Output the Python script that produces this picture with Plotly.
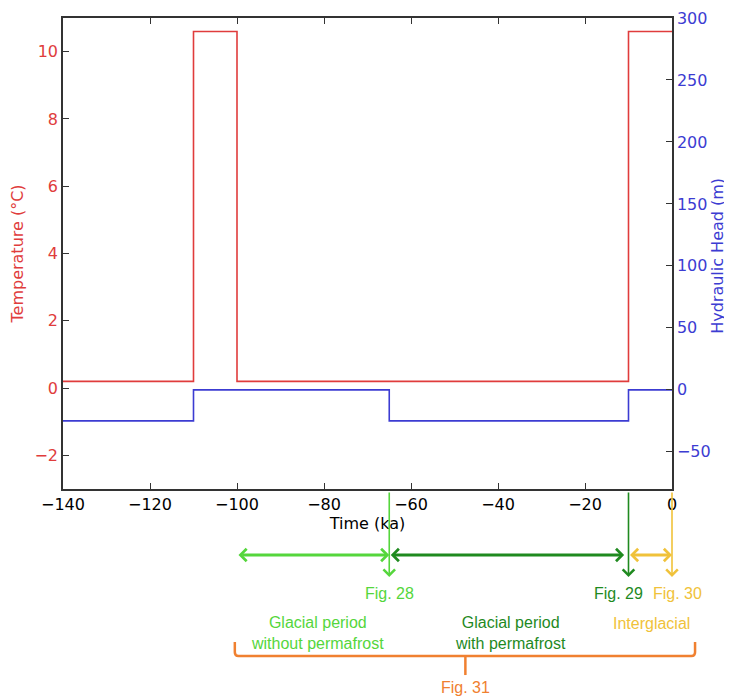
import plotly.graph_objects as go

# ---- data ----
time_temp = [-140, -110, -100, -10, 0]
temperature = [0.2, 10.6, 0.2, 10.6, 10.6]
time_head = [-140, -110, -65, -10, 0]
hydraulic_head = [-25, 0, -25, 0, 0]

x_ticks = [-140, -120, -100, -80, -60, -40, -20, 0]
temp_ticks = [-2, 0, 2, 4, 6, 8, 10]
head_ticks = [-50, 0, 50, 100, 150, 200, 250, 300]

X_MIN, X_MAX = -140, 0
T_RANGE = [-3, 11]
H_RANGE = [-80, 300]

# period boundaries (ka)
fig28_t = -65
fig29_t = -10
fig30_t = 0
glacial_start = -100

RED = "#e03c3c"
BLUE = "#3c3cd2"
LGREEN = "#55d63c"
DGREEN = "#1f8a1f"
GOLD = "#f0c23a"
ORANGE = "#f08030"


def xp(t):
    return (t - X_MIN) / (X_MAX - X_MIN)


fig = go.Figure()
fig.add_trace(go.Scatter(x=time_temp, y=temperature, mode="lines",
                         line=dict(color=RED, width=1.6, shape="hv"),
                         name="Temperature", yaxis="y"))
fig.add_trace(go.Scatter(x=time_head, y=hydraulic_head, mode="lines",
                         line=dict(color=BLUE, width=1.6, shape="hv"),
                         name="Hydraulic Head", yaxis="y2"))

tickfont = dict(family="DejaVu Sans", size=16)

# page body has an 8px margin, so the figure is 8px smaller than the window
fig.update_layout(
    width=724, height=689,
    margin=dict(l=55, r=60, t=10, b=208),
    paper_bgcolor="white", plot_bgcolor="white",
    showlegend=False,
    xaxis=dict(range=[X_MIN, X_MAX], tickvals=x_ticks, automargin=False,
               ticktext=[str(v).replace("-", "\u2212") for v in x_ticks],
               ticks="inside", ticklen=6, tickcolor="#333",
               showline=True, linecolor="#333", linewidth=1.5, mirror="ticks",
               showgrid=False, zeroline=False,
               tickfont=dict(tickfont, color="black"),
               title=dict(text="Time (ka)", font=dict(family="DejaVu Sans", size=16, color="black"), standoff=4)),
    yaxis=dict(range=T_RANGE, tickvals=temp_ticks, automargin=False,
               ticktext=[str(v).replace("-", "\u2212") for v in temp_ticks],
               ticks="inside", ticklen=6, tickcolor="#333",
               showline=True, linecolor="#333", linewidth=1.5,
               showgrid=False, zeroline=False,
               tickfont=dict(tickfont, color=RED)),
    yaxis2=dict(range=H_RANGE, tickvals=head_ticks, automargin=False,
                ticktext=[str(v).replace("-", "\u2212") for v in head_ticks],
                overlaying="y", side="right",
                ticks="inside", ticklen=6, tickcolor="#333",
                showline=True, linecolor="#333", linewidth=1.5,
                showgrid=False, zeroline=False,
                tickfont=dict(tickfont, color=BLUE)),
)

annotations = [
    dict(x=-0.0739, xref="paper", y=0.5, yref="paper", text="Temperature (°C)",
         textangle=-90, showarrow=False, xanchor="center", yanchor="middle",
         font=dict(family="DejaVu Sans", size=16, color=RED)),
    dict(x=1.0755, xref="paper", y=0.495, yref="paper", text="Hydraulic Head (m)",
         textangle=-90, showarrow=False, xanchor="center", yanchor="middle",
         font=dict(family="DejaVu Sans", size=16, color=BLUE)),
]

Y_HARROW = -0.140
Y_VTIP = -0.187
VLEN = -86  # pixels, tail above tip

# vertical arrows
for t, col in [(fig28_t, LGREEN), (fig29_t, DGREEN), (fig30_t, GOLD)]:
    annotations.append(dict(x=t, xref="x", y=Y_VTIP, yref="paper", ax=0, ay=VLEN,
                            axref="pixel", ayref="pixel", text="", showarrow=True,
                            arrowhead=4, arrowsize=1.4, arrowwidth=1.6, arrowcolor=col))
# horizontal double arrows
for t0, t1, col in [(glacial_start, fig28_t, LGREEN), (fig28_t, fig29_t - 1, DGREEN), (fig29_t, fig30_t, GOLD)]:
    annotations.append(dict(x=t1, xref="x", y=Y_HARROW, yref="paper", ax=t0, axref="x",
                            ay=0, ayref="pixel", text="", showarrow=True,
                            arrowhead=4, startarrowhead=4, arrowside="end+start",
                            arrowsize=0.8, startarrowsize=0.8, arrowwidth=3, arrowcolor=col))

txtfont = "Liberation Sans"
labels = [
    ("Fig. 28", xp(fig28_t), -0.221, LGREEN),
    ("Fig. 29", xp(-12.3), -0.221, DGREEN),
    ("Fig. 30", xp(1.2), -0.221, GOLD),
    ("Glacial period<br>without permafrost", xp(-81.6), -0.305, LGREEN),
    ("Glacial period<br>with permafrost", xp(-37.2), -0.305, DGREEN),
    ("Interglacial", xp(-4.6), -0.285, GOLD),
    ("Fig. 31", xp(-47.5), -0.421, ORANGE),
]
for txt, x, y, col in labels:
    annotations.append(dict(x=x, xref="paper", y=y, yref="paper", text=txt, showarrow=False,
                            xanchor="center", yanchor="middle",
                            font=dict(family=txtfont, size=16, color=col)))
fig.update_layout(annotations=annotations)

# brace for Fig. 31
bl, br, bm = xp(-100.5), xp(5.3), xp(-47.5)
ytop, yline, ybot = -0.325, -0.3545, -0.395
dx = 0.006
brace = (f"M {bl},{ytop} L {bl},{yline + 0.008} Q {bl},{yline} {bl + dx},{yline} "
         f"L {br - dx},{yline} Q {br},{yline} {br},{yline + 0.008} L {br},{ytop}")
fig.add_shape(type="path", xref="paper", yref="paper", path=brace,
              line=dict(color=ORANGE, width=2.5))
fig.add_shape(type="line", xref="paper", yref="paper", x0=bm, x1=bm, y0=yline, y1=ybot,
              line=dict(color=ORANGE, width=2.5))

fig.write_html("out.html")
